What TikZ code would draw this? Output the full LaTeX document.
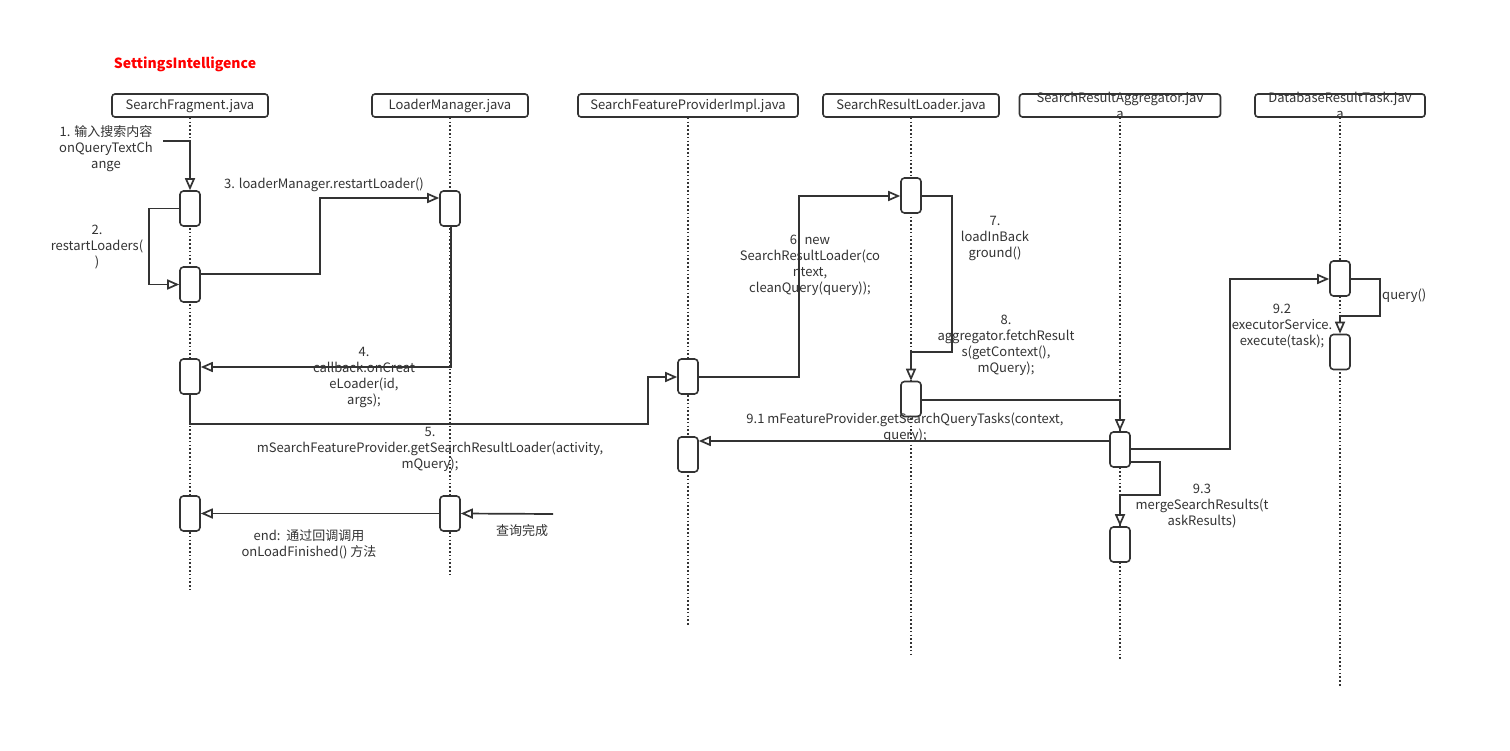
\documentclass[tikz,border=0pt]{standalone}
\usepackage{fontspec}
\newfontfamily\cjkfont{Noto Sans CJK SC}
\usetikzlibrary{arrows.meta}

\definecolor{ink}{HTML}{333333}
\definecolor{titlered}{HTML}{FF0000}

\begin{document}
\begin{tikzpicture}[
    x=1pt, y=-1pt,
    font=\cjkfont\fontsize{13}{16}\selectfont,
    text=ink,
    head/.style={
        draw=ink,
        line width=1.6pt,
        rounded corners=3pt,
        minimum height=23pt,
        inner sep=0pt
    },
    act/.style={
        draw=ink,
        fill=white,
        line width=1.6pt,
        rounded corners=3.5pt,
        minimum width=20pt,
        minimum height=35pt,
        inner sep=0pt
    },
    lifeline/.style={
        draw=ink,
        line width=1.6pt,
        dash pattern=on 1.6pt off 2.2pt
    },
    arrow/.style={
        draw=ink,
        line width=1.7pt,
        -{Triangle[open,length=12pt,width=10pt,fill=white]}
    },
    lbl/.style={
        align=center,
        inner sep=0pt
    }
]

\useasboundingbox[fill=white] (0,0) rectangle (1510,751);

% ------------------------------------------------------------------
% Title and lifelines
% ------------------------------------------------------------------

\node[text=titlered, font=\cjkfont\fontsize{14}{16}\selectfont\bfseries] (title)
    at (185,64) {SettingsIntelligence};

\node[head, minimum width=156pt] (fragment) at (190,105.5)
    {SearchFragment.java};

\node[head, minimum width=156pt] (loadermgr) at (450,105.5)
    {LoaderManager.java};

\node[head, minimum width=220pt] (provider) at (688,105.5)
    {SearchFeatureProviderImpl.java};

\node[head, minimum width=176pt] (loader) at (911,105.5)
    {SearchResultLoader.java};

\node[head, minimum width=201pt,
      label={[lbl]center:SearchResultAggregator.jav\\a}] (aggregator)
    at (1120,105.5) {};

\node[head, minimum width=170pt,
      label={[lbl]center:DatabaseResultTask.jav\\a}] (dbtask)
    at (1340,105.5) {};

\coordinate (fragmentend) at (190,590);
\coordinate (loadermgrend) at (450,576);
\coordinate (providerend) at (688,626);
\coordinate (loaderend) at (911,655);
\coordinate (aggregatorend) at (1120,661);
\coordinate (dbtaskend) at (1340,687);

\draw[lifeline] (fragment.south) -- (fragmentend);
\draw[lifeline] (loadermgr.south) -- (loadermgrend);
\draw[lifeline] (provider.south) -- (providerend);
\draw[lifeline] (loader.south) -- (loaderend);
\draw[lifeline] (aggregator.south) -- (aggregatorend);
\draw[lifeline] (dbtask.south) -- (dbtaskend);

% ------------------------------------------------------------------
% Activations
% ------------------------------------------------------------------

\node[act] (frag1) at (190,208.5) {};
\node[act] (frag2) at (190,284.5) {};
\node[act] (frag3) at (190,376.5) {};
\node[act] (frag4) at (190,513.5) {};

\node[act] (mgr1) at (450,208.5) {};
\node[act] (mgr2) at (450,513.5) {};

\node[act] (prov1) at (688,376.5) {};
\node[act] (prov2) at (688,454.5) {};

\node[act] (load1) at (911,195.5) {};
\node[act] (load2) at (911,399) {};

\node[act] (aggr1) at (1120,449.5) {};
\node[act] (aggr2) at (1120,544.5) {};

\node[act] (task1) at (1340,278.5) {};
\node[act] (task2) at (1340,352) {};

% ------------------------------------------------------------------
% Messages
% ------------------------------------------------------------------

\coordinate (input) at (163,141);
\coordinate (done) at (553,514);

\draw[arrow] (input) -| (frag1.north);

\draw[arrow] (frag1.west) -- ++(-30,0) |- (frag2.west);

\draw[arrow] (frag2.east |- 0,274) -| (320,198) -- (mgr1.west |- 0,198);

\draw[arrow] (mgr1.south -| 451,0) |- (frag3.east |- 0,367);

\draw[arrow] (frag3.south) |- (648,424) |- (prov1.west |- 0,377);

\draw[arrow] (prov1.east |- 0,377) -| (799,196) -- (load1.west |- 0,196);

\draw[arrow] (load1.east |- 0,196) -| (952,352) -| (load2.north);

\draw[arrow] (load2.east |- 0,400) -| (aggr1.north);

\draw[arrow] (aggr1.west |- 0,441) -- (prov2.east |- 0,441);

\draw[arrow] (aggr1.east |- 0,449) -| (1230,279) -- (task1.west |- 0,279);

\draw[arrow] (task1.east |- 0,279) -| (1380,316) -| (task2.north);

\draw[arrow] (aggr1.east |- 0,462) -| (1160,495) -| (aggr2.north);

\draw[arrow] (mgr2.west) -- (frag4.east);

\draw[arrow] (done) -- (mgr2.east);

% ------------------------------------------------------------------
% Message labels
% ------------------------------------------------------------------

\node[lbl] (l1) at (106,149) {1. 输入搜索内容\\onQueryTextCh\\ange};
\node[lbl] (l2) at (97,247) {2.\\restartLoaders(\\)};
\node[lbl] (l3) at (324,185) {3. loaderManager.restartLoader()};
\node[lbl] (l4) at (364,377) {4.\\callback.onCreat\\eLoader(id,\\args);};
\node[lbl] (l5) at (430,449)
    {5.\\mSearchFeatureProvider.getSearchResultLoader(activity,\\mQuery);};
\node[lbl] (l6) at (810,265)
    {6. new\\SearchResultLoader(co\\ntext,\\cleanQuery(query));};
\node[lbl] (l7) at (995,238) {7.\\loadInBack\\ground()};
\node[lbl] (l8) at (1006,345)
    {8.\\aggregator.fetchResult\\s(getContext(),\\mQuery);};
\node[lbl] (l91) at (905,428)
    {9.1 mFeatureProvider.getSearchQueryTasks(context,\\query);};
\node[lbl] (l92) at (1282,326) {9.2\\executorService.\\execute(task);};
\node[lbl, anchor=west] (lquery) at (1382,296) {query()};
\node[lbl] (l93) at (1202,506) {9.3\\mergeSearchResults(t\\askResults)};
\node[lbl] (lend) at (309,544) {end:~~通过回调调用\\onLoadFinished() 方法};
\node[lbl] (ldone) at (522,531) {查询完成};

\end{tikzpicture}
\end{document}
